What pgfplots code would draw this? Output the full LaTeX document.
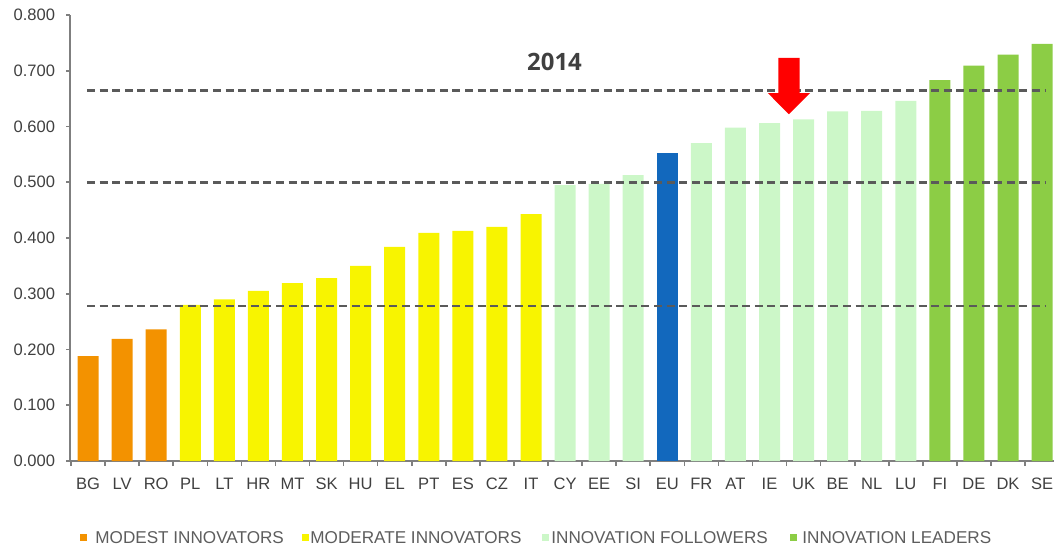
\documentclass[border=0pt]{standalone}
\usepackage{pgfplots}
\pgfplotsset{compat=1.18}
\usepackage{fontspec}
\setmainfont{Liberation Sans}
\newfontfamily\titlefont{Open Sans}

\definecolor{modest}{HTML}{F39200}
\definecolor{moderate}{HTML}{F8F400}
\definecolor{follower}{HTML}{CCF7C8}
\definecolor{leader}{HTML}{8CCD45}
\definecolor{eublue}{HTML}{1268BD}
\definecolor{axisgray}{HTML}{7F7F7F}
\definecolor{txtgray}{HTML}{404040}
\definecolor{dashgray}{HTML}{5A5A5A}

\begin{document}
\begin{tikzpicture}
\begin{axis}[
  scale only axis, width=492bp, height=223bp,
  xmin=-0.53, xmax=28.35, ymin=0, ymax=0.8,
  axis x line*=bottom, axis y line*=left,
  axis line style={axisgray, line width=1bp},
  tick align=outside,
  xtick={0,...,28},
  xticklabels={BG,LV,RO,PL,LT,HR,MT,SK,HU,EL,PT,ES,CZ,IT,CY,EE,SI,EU,FR,AT,IE,UK,BE,NL,LU,FI,DE,DK,SE},
  major x tick style={draw=none},
  minor xtick={-0.5,0.5,...,27.5},
  minor x tick style={axisgray, line width=0.8bp},
  minor tick length=2.5bp,
  ytick={0,0.1,0.2,0.3,0.4,0.5,0.6,0.7,0.8},
  major y tick style={axisgray, line width=0.8bp},
  major tick length=2bp,
  /pgf/number format/assume math mode=true,
  yticklabel style={xshift=-2bp, /pgf/number format/.cd, fixed, fixed zerofill, precision=3},
  ticklabel style={font=\fontsize{8.3}{10}\selectfont, text=txtgray},
  xticklabel style={yshift=-3bp},
  ybar, bar width=10.5bp,
  every axis plot/.append style={bar shift=0pt, draw=none},
  clip=false,
]
\addplot[fill=modest] coordinates {(0,0.188) (1,0.219) (2,0.236)};
\addplot[fill=moderate] coordinates {(3,0.280) (4,0.290) (5,0.305) (6,0.319) (7,0.328) (8,0.350) (9,0.384) (10,0.409) (11,0.413) (12,0.420) (13,0.443)};
\addplot[fill=follower] coordinates {(14,0.495) (15,0.497) (16,0.513) (18,0.570) (19,0.598) (20,0.606) (21,0.613) (22,0.627) (23,0.628) (24,0.646)};
\addplot[fill=eublue] coordinates {(17,0.553)};
\addplot[fill=leader] coordinates {(25,0.683) (26,0.709) (27,0.729) (28,0.748)};
% reference levels
\addplot[sharp plot, draw=dashgray, line width=1.3bp, dash pattern=on 4bp off 2.3bp] coordinates {(-0.03,0.665) (28.09,0.665)};
\addplot[sharp plot, draw=dashgray, line width=1.3bp, dash pattern=on 4bp off 2.3bp] coordinates {(-0.03,0.500) (28.09,0.500)};
\addplot[sharp plot, draw=dashgray, line width=1.3bp, dash pattern=on 4bp off 2.3bp] coordinates {(-0.03,0.278) (28.09,0.278)};
\node[font=\titlefont\bfseries\fontsize{12}{14}\selectfont, text=txtgray] at (axis cs:13.69,0.7166) {2014};
\fill[red] (axis cs:20.26,0.723) -- (axis cs:20.88,0.723) -- (axis cs:20.88,0.660) -- (axis cs:21.19,0.660)
  -- (axis cs:20.57,0.622) -- (axis cs:19.95,0.660) -- (axis cs:20.26,0.660) -- cycle;
\end{axis}
\begin{scope}[x=0.5bp, y=-0.5bp, shift={(-35bp,230.5bp)}]
  \tikzset{lg/.style={anchor=west, inner sep=0pt, text=txtgray!85, font=\fontsize{8.6}{10}\selectfont}}
  \fill[modest] (80,534.5) rectangle (87,541.5);
  \node[lg] at (95,538) {MODEST INNOVATORS};
  \fill[moderate] (302,534.5) rectangle (309,541.5);
  \node[lg] at (310,538) {MODERATE INNOVATORS};
  \fill[follower] (542,534.5) rectangle (549,541.5);
  \node[lg] at (551,538) {INNOVATION FOLLOWERS};
  \fill[leader] (790,534.5) rectangle (797,541.5);
  \node[lg] at (802,538) {INNOVATION LEADERS};
  \pgfresetboundingbox
  \path[use as bounding box] (0,0) rectangle (1054,550);
\end{scope}
\end{tikzpicture}
\end{document}
